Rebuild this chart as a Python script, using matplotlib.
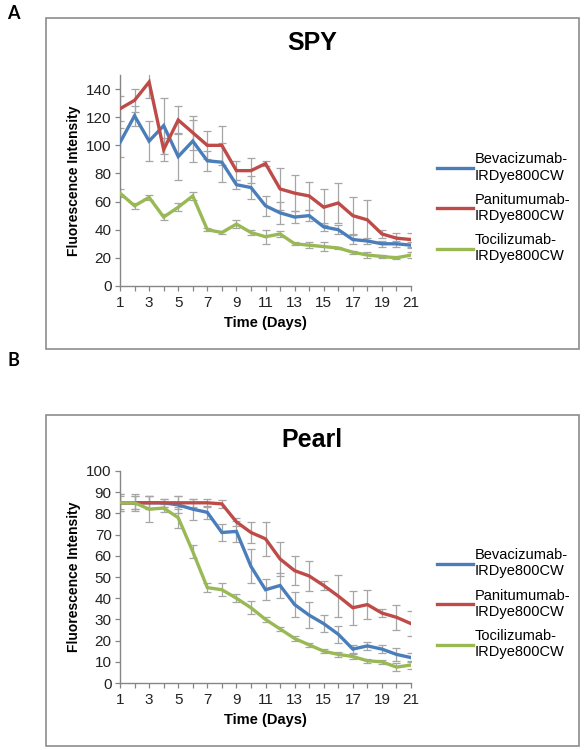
import matplotlib
matplotlib.use("Agg")
import matplotlib.pyplot as plt
from matplotlib.patches import Rectangle

plt.rcParams['font.family'] = ['Liberation Sans', 'DejaVu Sans']

# Days of measurement
days = list(range(1, 22))

# SPY panel
spy_bev = [102, 121, 103, 114, 92, 103, 89, 88, 72, 70, 57, 52, 49, 50, 42, 40, 33, 32, 30, 30, 29]
spy_pan = [126, 132, 145, 97, 118, 109, 100, 100, 82, 82, 87, 69, 66, 64, 56, 59, 50, 47, 37, 34, 33]
spy_toc = [66, 57, 63, 49, 56, 64, 40, 38, 44, 38, 35, 37, 30, 29, 28, 27, 24, 22, 21, 20, 22]
spy_bev_err = [10, 7, 14, 20, 17, 15, 7, 14, 3, 8, 7, 8, 4, 4, 3, 3, 3, 2, 2, 2, 2]
spy_pan_err = [9, 8, 11, 8, 10, 12, 10, 14, 7, 9, 2, 15, 13, 10, 13, 14, 13, 14, 3, 4, 5]
spy_toc_err = [3, 2, 2, 2, 3, 3, 1, 1, 3, 2, 5, 2, 1, 2, 3, 1, 1, 2, 1, 1, 2]

# Pearl panel
pearl_bev = [85, 85, 85, 85, 84, 82, 80.5, 71, 71.5, 55, 44, 46, 37, 32, 28, 23, 16, 17.5, 16, 13.5, 12]
pearl_pan = [85, 85, 85, 85, 85, 85, 85, 84.5, 76, 71, 68, 58.5, 53, 50.5, 46, 41, 35.5, 37, 33, 31, 28]
pearl_toc = [85, 85, 82, 82.5, 78, 62, 45, 44, 40, 35.5, 30, 25.5, 21, 18, 15, 13.5, 12.5, 10.5, 10, 7.5, 8.5]
pearl_bev_err = [4, 3, 3, 2, 4, 5, 3, 4, 5, 8, 5, 6, 6, 6, 4, 4, 2, 2, 2, 3, 2]
pearl_pan_err = [3, 3, 3, 2, 3, 2, 2, 2, 2, 5, 8, 8, 7, 7, 2, 10, 8, 7, 2, 6, 6]
pearl_toc_err = [4, 4, 6, 2, 5, 3, 2, 3, 2, 3, 1, 1, 1, 1, 1, 1, 1, 1, 1, 2, 2]

labels = ["Bevacizumab-\nIRDye800CW", "Panitumumab-\nIRDye800CW", "Tocilizumab-\nIRDye800CW"]
colors = ["#4A7EBB", "#BE4B48", "#98B954"]

fig = plt.figure(figsize=(5.84, 7.5), dpi=100)

# panel frames
for bottom in (0.5347, 0.0053):
    fig.patches.append(Rectangle((0.0788, bottom), 0.9127, 0.4413, transform=fig.transFigure,
                                 fill=False, edgecolor="#8c8c8c", linewidth=1.2))

fig.text(0.013, 0.982, "A", fontsize=13, fontweight='bold', family=['Lato', 'DejaVu Sans'], va='center', ha='left')
fig.text(0.013, 0.52, "B", fontsize=13, fontweight='bold', family=['Lato', 'DejaVu Sans'], va='center', ha='left')


def draw_panel(rect, title, title_y, series, errors, ymax, ystep, legend_y):
    ax = fig.add_axes(rect)
    for vals, errs, c, lab in zip(series, errors, colors, labels):
        ax.errorbar(days, vals, yerr=errs, fmt='none', ecolor="#a6a6a6",
                    elinewidth=0.9, capsize=3, capthick=0.9, zorder=2)
        ax.plot(days, vals, color=c, lw=2.4, label=lab, zorder=3, solid_joinstyle='miter')
    ax.set_xlim(1, 21)
    ax.set_ylim(0, ymax)
    ax.set_yticks(range(0, ymax + 1, ystep))
    ax.set_xticks(days)
    ax.set_xticklabels([str(d) if d % 2 == 1 else "" for d in days])
    for s in ("top", "right"):
        ax.spines[s].set_visible(False)
    for s in ("left", "bottom"):
        ax.spines[s].set_color("#868686")
        ax.spines[s].set_linewidth(1.0)
    ax.tick_params(direction='out', length=3.5, width=0.9, color="#868686",
                   labelsize=11, labelcolor="#222222", pad=2.5)
    ax.tick_params(axis='x', pad=4)
    ax.set_ylabel("Fluorescence Intensity", fontsize=10, fontweight='bold', labelpad=4)
    ax.set_xlabel("Time (Days)", fontsize=10.5, fontweight='bold', labelpad=4)
    fig.text(0.534, title_y, title, fontsize=18, fontweight='bold', ha='center', va='center')
    ax.legend(loc='center left', bbox_to_anchor=(0.748, legend_y), bbox_transform=fig.transFigure,
              frameon=False, fontsize=10.5, handlelength=2.5, handletextpad=0.1,
              labelspacing=0.7, borderpad=0, borderaxespad=0)
    return ax


draw_panel([0.2055, 0.6187, 0.4983, 0.2813], "SPY", 0.943,
           [spy_bev, spy_pan, spy_toc], [spy_bev_err, spy_pan_err, spy_toc_err], 150, 20, 0.7227)
# y axis goes to 150 but ticks end at 140
fig.axes[0].set_yticks(range(0, 141, 20))

draw_panel([0.2055, 0.0893, 0.4983, 0.2827], "Pearl", 0.413,
           [pearl_bev, pearl_pan, pearl_toc], [pearl_bev_err, pearl_pan_err, pearl_toc_err], 100, 10, 0.195)

fig.savefig("out.png", dpi=100)
